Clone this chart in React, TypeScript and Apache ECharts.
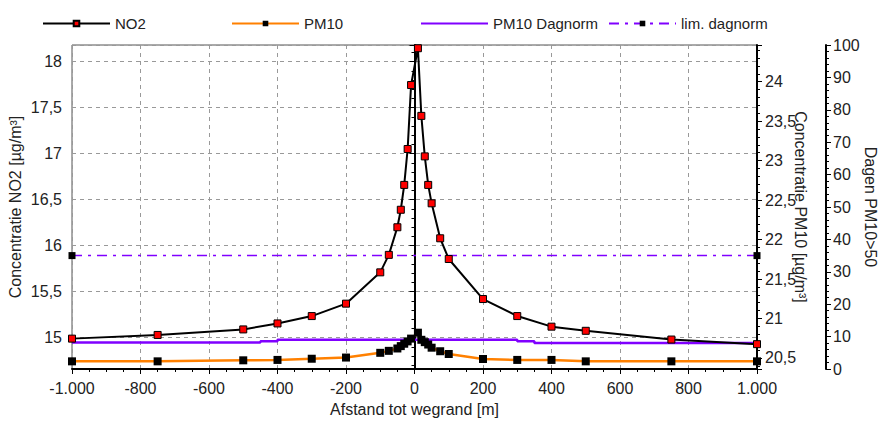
import React, { useEffect, useRef } from "react";
import * as echarts from "echarts";

// Distance to road edge [m]
const DISTANCE = [-1000, -750, -500, -400, -300, -200, -100, -75, -50, -40, -30, -20, -10, 10, 20, 30, 40, 50, 75, 100, 200, 300, 400, 500, 750, 1000];
// NO2 concentration [µg/m³]
const NO2 = [14.99, 15.03, 15.09, 15.155, 15.235, 15.37, 15.71, 15.9, 16.2, 16.39, 16.66, 17.05, 17.745, 18.145, 17.41, 16.97, 16.66, 16.46, 16.08, 15.855, 15.42, 15.235, 15.12, 15.075, 14.98, 14.93];
// PM10 concentration [µg/m³]
const PM10 = [20.457, 20.457, 20.47, 20.475, 20.49, 20.505, 20.565, 20.59, 20.62, 20.65, 20.68, 20.71, 20.745, 20.82, 20.73, 20.7, 20.67, 20.63, 20.585, 20.55, 20.487, 20.475, 20.475, 20.457, 20.457, 20.457];
// PM10 days > 50
const DAGNORM_X = [-1000, -450, -400, -10, 10, 300, 350, 1000];
const DAGNORM = [8.2, 8.6, 9.0, 9.0, 9.0, 8.55, 8.05, 8.05];
// Limit days
const LIM_X = [-1000, 1000];
const LIM = [35, 35];

const FONT = "'Liberation Sans', Arial, sans-serif";
const TXT = "#222";

function fmtX(v: number): string {
  const s = v < 0 ? "-" : "";
  const a = Math.abs(v);
  if (a >= 1000) {
    const th = Math.floor(a / 1000);
    const rest = String(a % 1000).padStart(3, "0");
    return s + th + "." + rest;
  }
  return s + a;
}
function fmtDec(v: number): string {
  return String(Math.round(v * 100) / 100).replace(".", ",");
}

export default function App() {
  const ref = useRef<HTMLDivElement>(null);
  useEffect(() => {
    document.body.style.margin = "0";
    document.documentElement.style.overflow = "hidden";
    if (!ref.current) return;
    const chart = echarts.init(ref.current, null, { renderer: "svg" });
    const pair = (xs: number[], ys: number[]) => xs.map((x, i) => [x, ys[i]]);
    const legendCommon = {
      top: 11,
      itemWidth: 67,
      itemHeight: 7,
      itemGap: 5,
      textStyle: { fontSize: 15, color: TXT, fontFamily: FONT },
    };
    chart.setOption({
      animation: false,
      backgroundColor: "#fff",
      textStyle: { fontFamily: FONT },
      legend: [
        { ...legendCommon, left: 37, data: ["NO2"] },
        { ...legendCommon, left: 226, data: ["PM10"] },
        {
          ...legendCommon,
          left: 415,
          data: [{ name: "PM10 Dagnorm", itemStyle: { color: "transparent", borderColor: "transparent", borderWidth: 0 } }],
        },
        { ...legendCommon, left: 603, data: ["lim. dagnorm"] },
      ],
      grid: {
        left: 72,
        right: 126,
        top: 45,
        bottom: 55,
        outerBoundsMode: "none",
        containLabel: false,
        show: true,
        borderColor: "#555",
        borderWidth: 1,
        backgroundColor: "#fff",
      },
      xAxis: {
        type: "value",
        min: -1000,
        max: 1000,
        interval: 200,
        name: "Afstand tot wegrand [m]",
        nameLocation: "middle",
        nameMoveOverlap: false,
        nameGap: 32,
        nameTextStyle: { fontSize: 16, color: TXT, fontFamily: FONT },
        axisLine: { show: true, lineStyle: { color: "#000", width: 2 } },
        axisTick: { show: true, length: 5, lineStyle: { color: "#000" } },
        minorTick: { show: true, splitNumber: 4, length: 3, lineStyle: { color: "#000" } },
        axisLabel: { fontSize: 16, color: TXT, margin: 11, formatter: fmtX },
        splitLine: { show: true, lineStyle: { color: "#999", type: [4, 4], width: 1 } },
      },
      yAxis: [
        {
          type: "value",
          position: "left",
          min: 14.66,
          max: 18.18,
          splitNumber: 7,
          name: "Concentratie NO2 [µg/m³]",
          nameLocation: "middle",
          nameMoveOverlap: false,
          nameGap: 49,
          nameTextStyle: { fontSize: 16, color: TXT, fontFamily: FONT },
          axisLine: { show: true, lineStyle: { color: "#000", width: 2 } },
          axisTick: { show: true, length: 5, lineStyle: { color: "#000" } },
          minorTick: { show: true, splitNumber: 5, length: 3, lineStyle: { color: "#000" } },
          axisLabel: { fontSize: 16, color: TXT, margin: 10, showMinLabel: false, showMaxLabel: false, formatter: fmtDec },
          splitLine: { show: true, lineStyle: { color: "#999", type: [4, 4], width: 1 } },
        },
        {
          type: "value",
          position: "right",
          min: 20.36,
          max: 24.465,
          splitNumber: 8,
          name: "Concentratie PM10 [µg/m³]",
          nameLocation: "middle",
          nameMoveOverlap: false,
          nameRotate: -90,
          nameGap: 35,
          nameTextStyle: { fontSize: 16, color: TXT, fontFamily: FONT },
          axisLine: { show: true, lineStyle: { color: "#000", width: 2 } },
          axisTick: { show: true, length: 5, lineStyle: { color: "#000" } },
          minorTick: { show: true, splitNumber: 5, length: 3, lineStyle: { color: "#000" } },
          axisLabel: { fontSize: 16, color: TXT, margin: 8, showMinLabel: false, showMaxLabel: false, formatter: fmtDec },
          splitLine: { show: false },
        },
        {
          type: "value",
          position: "right",
          offset: 69,
          min: 0,
          max: 100,
          interval: 10,
          name: "Dagen PM10>50",
          nameLocation: "middle",
          nameMoveOverlap: false,
          nameRotate: -90,
          nameGap: 36,
          nameTextStyle: { fontSize: 16, color: TXT, fontFamily: FONT },
          axisLine: { show: true, lineStyle: { color: "#000", width: 2 } },
          axisTick: { show: true, length: 5, lineStyle: { color: "#000" } },
          minorTick: { show: true, splitNumber: 5, length: 3, lineStyle: { color: "#000" } },
          axisLabel: { fontSize: 16, color: TXT, margin: 7 },
          splitLine: { show: false },
        },
      ],
      series: [
        {
          name: "PM10 Dagnorm",
          type: "line",
          yAxisIndex: 2,
          step: "end",
          data: pair(DAGNORM_X, DAGNORM),
          symbol: "none",
          lineStyle: { color: "#8000ff", width: 2.5 },
          itemStyle: { color: "#8000ff" },
          z: 1,
        },
        {
          name: "lim. dagnorm",
          type: "line",
          yAxisIndex: 2,
          data: pair(LIM_X, LIM),
          symbol: "rect",
          symbolSize: 7,
          lineStyle: { color: "#8000ff", width: 1.5, type: [10, 6, 3, 6] },
          itemStyle: { color: "#000" },
          z: 2,
        },
        {
          name: "PM10",
          type: "line",
          yAxisIndex: 1,
          data: pair(DISTANCE, PM10),
          symbol: "rect",
          symbolSize: 8,
          lineStyle: { color: "#ff8000", width: 2.5 },
          itemStyle: { color: "#000" },
          z: 3,
        },
        {
          name: "NO2",
          type: "line",
          yAxisIndex: 0,
          data: pair(DISTANCE, NO2),
          symbol: "rect",
          symbolSize: 7,
          lineStyle: { color: "#000", width: 2 },
          itemStyle: { color: "#ff0000", borderColor: "#000", borderWidth: 1 },
          z: 4,
        },
      ],
    });
    return () => chart.dispose();
  }, []);
  return <div ref={ref} style={{ position: "fixed", left: 0, top: 0, width: 883, height: 424 }} />;
}
